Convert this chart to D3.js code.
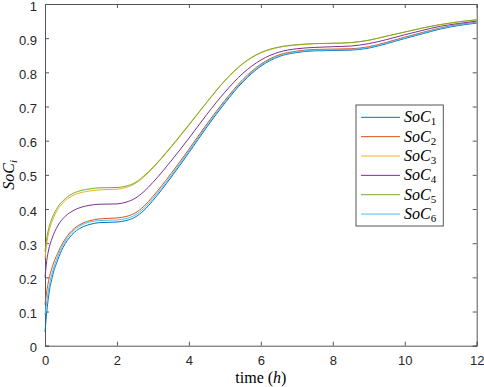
<!DOCTYPE html>
<html>
<head>
<meta charset="utf-8">
<script src="https://cdn.jsdelivr.net/npm/d3@7"></script>
<style>
  body { margin: 0; background: #fff; }
  svg { display: block; }
  .tick text { font-family: "Liberation Sans", Arial, sans-serif; font-size: 13px; fill: #262626; }
</style>
</head>
<body>
<div id="chart"></div>
<script>
// time samples (hours)
const time = [0, 0.05, 0.1, 0.2, 0.35, 0.5, 0.75, 1, 1.25, 1.5, 2, 2.25, 2.5, 2.75, 3, 3.5, 4, 4.5, 5, 5.5, 6, 6.5, 7, 7.5, 8, 8.5, 9, 9.5, 10, 10.5, 11, 11.5, 12];

// state of charge of each unit
const soc1 = [0.04, 0.1, 0.145, 0.2, 0.25, 0.287, 0.325, 0.345, 0.355, 0.36, 0.362, 0.366, 0.376, 0.396, 0.425, 0.492, 0.565, 0.64, 0.71, 0.772, 0.818, 0.846, 0.858, 0.863, 0.864, 0.865, 0.871, 0.884, 0.899, 0.913, 0.927, 0.937, 0.944];
const soc2 = [0.12, 0.16, 0.19, 0.23, 0.27, 0.302, 0.337, 0.356, 0.366, 0.371, 0.374, 0.378, 0.388, 0.408, 0.437, 0.503, 0.575, 0.649, 0.718, 0.779, 0.824, 0.851, 0.862, 0.867, 0.868, 0.869, 0.875, 0.888, 0.903, 0.917, 0.93, 0.94, 0.947];
const soc3 = [0.255, 0.3, 0.33, 0.365, 0.398, 0.418, 0.438, 0.448, 0.453, 0.456, 0.458, 0.463, 0.474, 0.494, 0.52, 0.58, 0.645, 0.712, 0.775, 0.825, 0.857, 0.873, 0.88, 0.884, 0.885, 0.887, 0.894, 0.906, 0.918, 0.93, 0.94, 0.948, 0.954];
const soc4 = [0.2, 0.25, 0.28, 0.315, 0.35, 0.372, 0.393, 0.405, 0.411, 0.414, 0.415, 0.42, 0.431, 0.451, 0.478, 0.54, 0.607, 0.677, 0.742, 0.797, 0.836, 0.859, 0.869, 0.873, 0.875, 0.877, 0.884, 0.896, 0.91, 0.923, 0.935, 0.943, 0.95];
const soc5 = [0.275, 0.315, 0.342, 0.374, 0.405, 0.424, 0.444, 0.454, 0.459, 0.462, 0.463, 0.467, 0.477, 0.497, 0.522, 0.582, 0.647, 0.713, 0.776, 0.826, 0.858, 0.874, 0.881, 0.884, 0.885, 0.887, 0.894, 0.906, 0.918, 0.93, 0.94, 0.948, 0.954];
const soc6 = [0.09, 0.13, 0.165, 0.213, 0.26, 0.295, 0.332, 0.352, 0.362, 0.366, 0.368, 0.372, 0.382, 0.402, 0.431, 0.497, 0.57, 0.645, 0.714, 0.775, 0.821, 0.848, 0.86, 0.865, 0.866, 0.867, 0.873, 0.886, 0.901, 0.915, 0.929, 0.939, 0.946];

const seriesNames = ["1", "2", "3", "4", "5", "6"];
const colors = ["#0072BD", "#D95319", "#EDB120", "#7E2F8E", "#77AC30", "#4DBEEE"];
const xTicks = [0, 2, 4, 6, 8, 10, 12];
const yTicks = [0, 0.1, 0.2, 0.3, 0.4, 0.5, 0.6, 0.7, 0.8, 0.9, 1];

const series = [soc1, soc2, soc3, soc4, soc5, soc6];

let width = 484, height = 387,
    margin = ({ top: 4, right: 7.3, bottom: 41.3, left: 45 });

const svg = d3.select("#chart")
  .append("svg")
  .attr("width", width)
  .attr("height", height);

let x = d3.scaleLinear().domain([0, 12]).range([margin.left, width - margin.right]);
let y = d3.scaleLinear().domain([0, 1]).range([height - margin.bottom, margin.top]);

const axisColor = "#555";

// bottom and left axes with inward ticks
const gx = svg.append("g")
  .attr("transform", `translate(0,${height - margin.bottom})`)
  .call(d3.axisBottom(x).tickValues(xTicks).tickSize(-4).tickPadding(10).tickFormat(d3.format("")));
const gy = svg.append("g")
  .attr("transform", `translate(${margin.left},0)`)
  .call(d3.axisLeft(y).tickValues(yTicks).tickSize(-4).tickPadding(8).tickFormat(d3.format("")));
// labels sit a touch below their ticks, as in the original
gy.selectAll(".tick text").attr("dy", "0.47em");

// top and right ticks, no labels
const gt = svg.append("g")
  .attr("transform", `translate(0,${margin.top})`)
  .call(d3.axisTop(x).tickValues(xTicks).tickSize(-4).tickFormat(""));
const gr = svg.append("g")
  .attr("transform", `translate(${width - margin.right},0)`)
  .call(d3.axisRight(y).tickValues(yTicks).tickSize(-4).tickFormat(""));

[gx, gy, gt, gr].forEach(g => {
  g.select(".domain").attr("stroke", axisColor).attr("stroke-width", 1);
  g.selectAll(".tick line").attr("stroke", axisColor).attr("stroke-width", 1);
});

// data lines
const line = d3.line()
  .x((d, i) => x(time[i]))
  .y(d => y(d))
  .curve(d3.curveMonotoneX);

svg.append("g")
  .selectAll("path")
  .data(series)
  .join("path")
  .attr("fill", "none")
  .attr("stroke", (d, i) => colors[i])
  .attr("stroke-width", 1)
  .attr("d", line);

// axis labels
const xl = svg.append("text")
  .attr("x", (margin.left + width - margin.right) / 2)
  .attr("y", 383)
  .attr("text-anchor", "middle")
  .attr("font-family", "'Liberation Serif', 'DejaVu Serif', serif")
  .attr("font-size", 16)
  .attr("fill", "#000");
xl.append("tspan").text("time (");
xl.append("tspan").attr("font-style", "italic").text("h");
xl.append("tspan").text(")");

const yl = svg.append("text")
  .attr("transform", `translate(14,${(margin.top + height - margin.bottom) / 2}) rotate(-90)`)
  .attr("text-anchor", "middle")
  .attr("font-family", "'Liberation Serif', 'DejaVu Serif', serif")
  .attr("font-style", "italic")
  .attr("font-size", 16)
  .attr("fill", "#000");
yl.append("tspan").text("SoC");
yl.append("tspan").attr("font-size", 11).attr("dy", 3).text("i");

// legend
const legend = svg.append("g").attr("transform", "translate(356,105)");
legend.append("rect")
  .attr("width", 87.3).attr("height", 121)
  .attr("fill", "#fff")
  .attr("stroke", axisColor).attr("stroke-width", 1);

const rows = legend.selectAll("g.row")
  .data(seriesNames)
  .join("g")
  .attr("class", "row")
  .attr("transform", (d, i) => `translate(0,${12.3 + i * 19.35})`);

rows.append("line")
  .attr("x1", 5).attr("x2", 44)
  .attr("stroke", (d, i) => colors[i])
  .attr("stroke-width", 1);

const lt = rows.append("text")
  .attr("x", 48)
  .attr("y", 5)
  .attr("font-family", "'Liberation Serif', 'DejaVu Serif', serif")
  .attr("font-size", 16)
  .attr("fill", "#000");
lt.append("tspan").attr("font-style", "italic").text("SoC");
lt.append("tspan").attr("font-size", 11).attr("dy", 3).text(d => d);
</script>
</body>
</html>
